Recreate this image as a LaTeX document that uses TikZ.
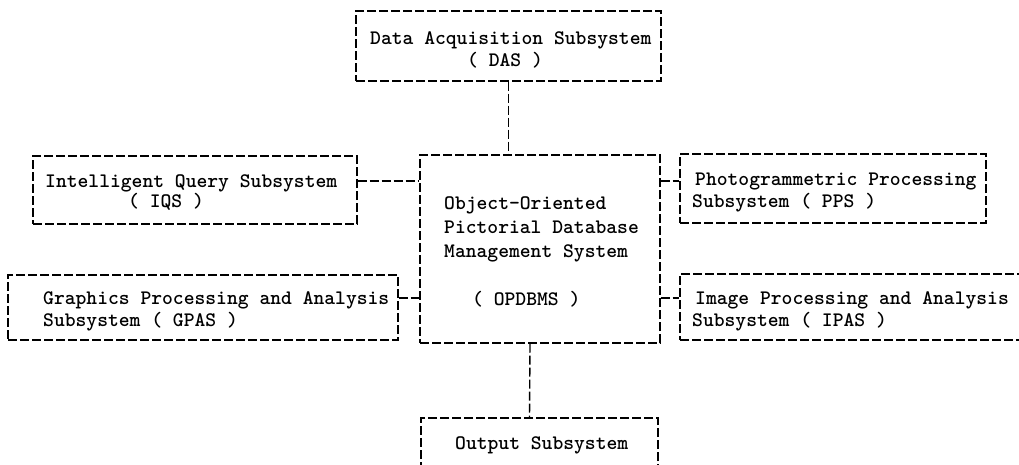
\documentclass[tikz,border=0pt]{standalone}
\usetikzlibrary{calc}
\begin{document}
\begin{tikzpicture}[x=1pt,y=-1pt,
  box/.style={draw, line width=1.4pt, dash pattern=on 9pt off 3pt, rectangle, inner sep=0pt},
  conn/.style={draw, line width=1.4pt, dash pattern=on 9pt off 3pt},
  lbl/.style={inner sep=0pt, anchor=west, text height=13pt, text depth=0pt,
    font=\ttfamily\bfseries\fontsize{20.6}{24}\selectfont}]
\useasboundingbox (0,0) rectangle (1019,464);
% boxes
\node[box, minimum width=305pt, minimum height=70pt] (das) at (508.5,46) {};
\node[box, minimum width=240pt, minimum height=188pt] (core) at (540,249) {};
\node[box, minimum width=324pt, minimum height=68pt] (iqs) at (195,190) {};
\node[box, minimum width=390pt, minimum height=65pt] (gpas) at (203,307.5) {};
\node[box, minimum width=306pt, minimum height=69pt] (pps) at (833,188.5) {};
\node[box, minimum width=350pt, minimum height=66pt] (ipas) at (855,307) {};
\node[box, minimum width=237pt, minimum height=70pt] (outp) at (539.5,453) {};
% texts
\node[lbl] (das1) at (370,38) {Data Acquisition Subsystem};
\node[lbl] (das2) at (467,60) {( DAS )};
\node[lbl] (core1) at (444,203) {Object-Oriented};
\node[lbl] (core2) at (444,227) {Pictorial Database};
\node[lbl] (core3) at (444,251) {Management System};
\node[lbl] (core4) at (472,299) {( OPDBMS )};
\node[lbl] (iqs1) at (45,181) {Intelligent Query Subsystem};
\node[lbl] (iqs2) at (128,201) {( IQS )};
\node[lbl] (gpas1) at (43,298) {Graphics Processing and Analysis};
\node[lbl] (gpas2) at (43,320) {Subsystem ( GPAS )};
\node[lbl] (pps1) at (695,179) {Photogrammetric Processing};
\node[lbl] (pps2) at (692,201) {Subsystem ( PPS )};
\node[lbl] (ipas1) at (695,298) {Image Processing and Analysis};
\node[lbl] (ipas2) at (692,320) {Subsystem ( IPAS )};
\node[lbl] (out1) at (455,443) {Output Subsystem};
% connectors
\draw[conn] (das.south) -- (das.south |- core.north);
\draw[conn] ([xshift=-10pt]core.south) -- ([xshift=-10pt]outp.north);
\draw[conn] (iqs.east |- iqs1) -- (core.west |- iqs1);
\draw[conn] (gpas.east |- gpas1) -- (core.west |- gpas1);
\draw[conn] (core.east |- iqs1) -- (pps.west |- iqs1);
\draw[conn] (core.east |- gpas1) -- (ipas.west |- gpas1);
\end{tikzpicture}
\end{document}
